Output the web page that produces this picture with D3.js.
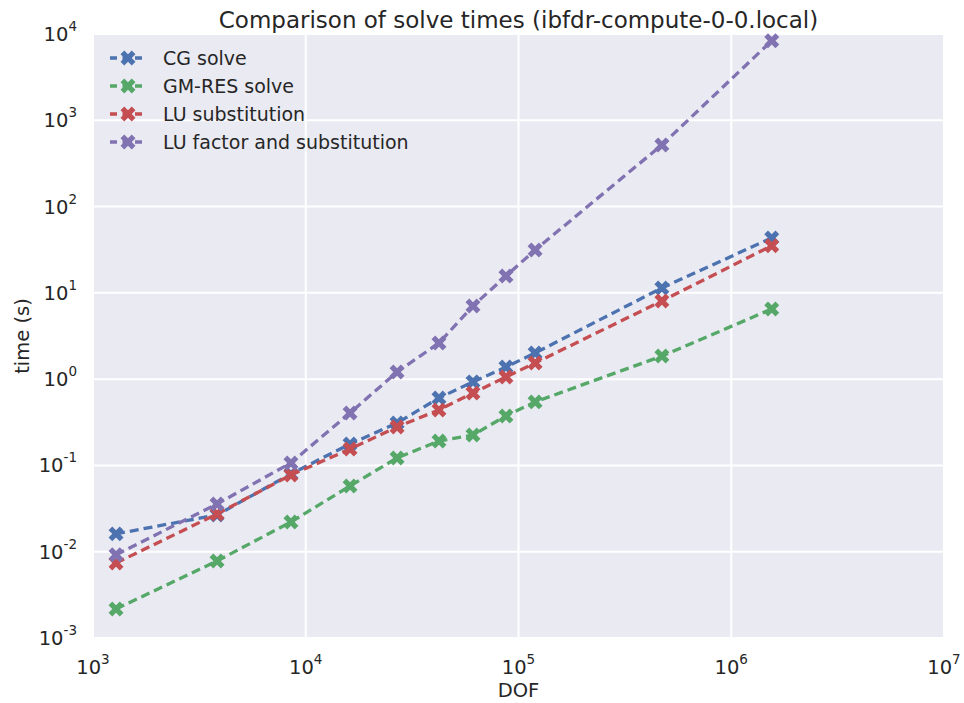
<!DOCTYPE html>
<html><head><meta charset="utf-8">
<script src="https://cdn.jsdelivr.net/npm/d3@7"></script>
<style>body{margin:0;background:#fff;} text{font-family:"DejaVu Sans",sans-serif;fill:#262626;}</style>
</head><body><svg id="c" width="964" height="703"></svg>
<script>
const dof = [1283, 3830, 8520, 16150, 26870, 42280, 61100, 87300, 119700, 472000, 1550000];
const cgSolve = [0.0161, 0.0267, 0.0798, 0.177, 0.31, 0.605, 0.93, 1.38, 2.01, 11.4, 43.3];
const gmresSolve = [0.00217, 0.00782, 0.0221, 0.0578, 0.122, 0.192, 0.225, 0.375, 0.545, 1.85, 6.5];
const luSubst = [0.0074, 0.0274, 0.0776, 0.155, 0.279, 0.44, 0.69, 1.06, 1.54, 8.05, 35.2];
const luFactor = [0.0092, 0.0358, 0.107, 0.406, 1.21, 2.62, 7.05, 15.7, 31.4, 518, 8360];
const seriesNames = ["CG solve", "GM-RES solve", "LU substitution", "LU factor and substitution"];
const seriesColors = ["#4C72B0", "#55A868", "#C44E52", "#8172B2"];
const xTicks = [3, 4, 5, 6, 7];
const yTicks = [-3, -2, -1, 0, 1, 2, 3, 4];

const allSeries = [cgSolve, gmresSolve, luSubst, luFactor];
const svg = d3.select("#c");
const L = 93, R = 944, T = 34, B = 638;
const x = d3.scaleLog().domain([1e3, 1e7]).range([L, R]);
const y = d3.scaleLog().domain([1e-3, 1e4]).range([B, T]);

svg.append("rect").attr("x", L).attr("y", T).attr("width", R - L).attr("height", B - T).attr("fill", "#EAEAF2");
const g = svg.append("g");
xTicks.forEach(e => g.append("line").attr("x1", x(10 ** e)).attr("x2", x(10 ** e)).attr("y1", T).attr("y2", B).attr("stroke", "#fff").attr("stroke-width", 2));
yTicks.forEach(e => g.append("line").attr("y1", y(10 ** e)).attr("y2", y(10 ** e)).attr("x1", L).attr("x2", R).attr("stroke", "#fff").attr("stroke-width", 2));

function pow10(sel, e) {
  sel.append("tspan").text("10");
  sel.append("tspan").attr("dy", -10).attr("font-size", 13.5).text(String(e));
}
xTicks.forEach(e => {
  const t = svg.append("text").attr("x", x(10 ** e)).attr("y", 674).attr("text-anchor", "middle").attr("font-size", 19.5);
  pow10(t, e);
});
yTicks.forEach(e => {
  const t = svg.append("text").attr("x", 77).attr("y", y(10 ** e) + 7).attr("text-anchor", "end").attr("font-size", 19.5);
  pow10(t, e);
});

const cross = d3.symbol().type(d3.symbolCross).size(140);
const line = d3.line().x((d, i) => x(dof[i])).y(d => y(d));
allSeries.forEach((s, k) => {
  g.append("path").attr("d", line(s)).attr("fill", "none").attr("stroke", seriesColors[k])
    .attr("stroke-width", 3.3).attr("stroke-dasharray", "9,5");
  s.forEach((v, i) => {
    g.append("path").attr("d", cross()).attr("fill", seriesColors[k])
      .attr("transform", `translate(${x(dof[i])},${y(v)}) rotate(45)`);
  });
});

svg.append("text").attr("x", (L + R) / 2).attr("y", 28).attr("text-anchor", "middle").attr("font-size", 23)
  .text("Comparison of solve times (ibfdr-compute-0-0.local)");
svg.append("text").attr("x", (L + R) / 2).attr("y", 697).attr("text-anchor", "middle").attr("font-size", 19.5).text("DOF");
svg.append("text").attr("transform", `translate(29,${(T + B) / 2}) rotate(-90)`).attr("text-anchor", "middle")
  .attr("font-size", 19.5).text("time (s)");

const lg = svg.append("g");
seriesNames.forEach((n, k) => {
  const yy = 58 + k * 28;
  lg.append("line").attr("x1", 110).attr("x2", 145).attr("y1", yy).attr("y2", yy).attr("stroke", seriesColors[k])
    .attr("stroke-width", 3.3).attr("stroke-dasharray", "7,5.5");
  lg.append("path").attr("d", cross()).attr("fill", seriesColors[k]).attr("transform", `translate(128,${yy}) rotate(45)`);
  lg.append("text").attr("x", 163).attr("y", yy + 7).attr("font-size", 19).text(n);
});
</script></body></html>
